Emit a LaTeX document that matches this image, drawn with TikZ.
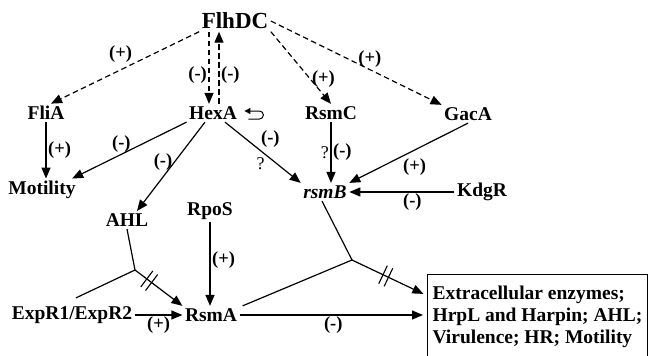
\documentclass[tikz,border=0pt]{standalone}
\usepackage{fontspec}
\setmainfont{Liberation Serif}
\usetikzlibrary{arrows.meta}
\usetikzlibrary{positioning}
\usetikzlibrary{decorations.markings}

\begin{document}
\begin{tikzpicture}[
    x=1pt, y=-1pt,
    >={Triangle[length=11pt,width=9pt]},
    line width=1.2pt,
    every node/.style={font=\fontsize{19.5}{22}\selectfont\bfseries, inner sep=2pt},
    master/.style={font=\fontsize{23}{26}\selectfont\bfseries},
    sign/.style={font=\fontsize{18.5}{20}\selectfont\bfseries, inner sep=1.5pt},
    query/.style={font=\fontsize{18}{20}\selectfont, inner sep=1.5pt},
    regulate/.style={->, dash pattern=on 5.5pt off 3.5pt},
    blocked/.style={postaction={decorate}, decoration={markings,
        mark=at position #1 with {\draw[-, shorten >=0pt, line width=1.1pt] (-3pt,-10pt) -- (-3pt,10pt) (3pt,-10pt) -- (3pt,10pt);}}},
    targetbox/.style={draw, anchor=north west, align=left, inner xsep=5pt, inner ysep=4pt,
        minimum height=84pt, font=\fontsize{19.5}{22}\selectfont\bfseries}
]
\useasboundingbox (0,0) rectangle (648,356);

% Nodes
\node[master] (flhdc) at (235,21) {FlhDC};
\node (flia) at (46,113) {FliA};
\node (hexa) at (213,113) {HexA};
\node (rsmc) at (331,113) {RsmC};
\node (gaca) at (468,114) {GacA};
\node (motility) at (42,190) {Motility};
\node (rsmb) at (325,192) {\itshape rsmB};
\node (kdgr) at (482,192) {KdgR};
\node (ahl) at (127,220) {AHL};
\node (rpos) at (210,211) {RpoS};
\node (expr) at (72,315) {ExpR1/ExpR2};
\node (rsma) at (211,315) {RsmA};
\node[targetbox] (targets) at (427,274) {Extracellular enzymes;\\HrpL and Harpin; AHL;\\Virulence; HR; Motility};
\coordinate (j1) at (135,270);
\coordinate (j2) at (352,260);

% FlhDC edges
\draw[regulate] (flhdc.south west) -- node[sign, above=5pt, pos=.53] {(+)} ([xshift=5pt]flia.north);
\draw[regulate] ([xshift=-4pt]hexa.north |- flhdc.south) -- node[sign, left, pos=.6] {(-)} ([xshift=-4pt]hexa.north);
\draw[regulate] ([xshift=6pt]hexa.north) -- node[sign, right, pos=.4] {(-)} ([xshift=6pt]hexa.north |- flhdc.south);
\draw[regulate] (flhdc.south east) -- node[sign, right, pos=.65] {(+)} (rsmc.north);
\draw[regulate] (flhdc.east) -- node[sign, above, pos=.58] {(+)} (gaca.north west);

% HexA autoregulation
\draw[{Triangle[length=6pt,width=6pt]}-, line width=1pt] ([shift={(5pt,2pt)}]hexa.east) -- ++(15,0)
    arc[start angle=90, end angle=-90, radius=4pt] -- ++(-11,0);

% Edges
\draw[->] (flia.south) -- node[sign, right] {(+)} (flia.south |- motility.north);
\draw[->] (hexa.south west) -- node[sign, above, pos=.57] {(-)} ([xshift=-6pt]motility.north east);
\draw[->] ([xshift=-8pt]hexa.south) -- node[sign, left, pos=.45] {(-)} ([xshift=10pt]ahl.north);
\draw[->] ([xshift=12pt]hexa.south) -- node[sign, above right, pos=.45] {(-)} node[query, below left, pos=.55] {?} (rsmb.north west);
\draw[->] (rsmc.south) -- node[sign, right] {(-)} node[query, left] {?} (rsmc.south |- rsmb.north);
\draw[->] (gaca.south) -- node[sign, below=7pt, pos=.45] {(+)} (rsmb.north east);
\draw[->] (kdgr.west) -- node[sign, below, pos=.4] {(-)} (rsmb.east);

\draw (ahl.south) -- (j1);
\draw ([shift={(4pt,6pt)}]expr.north) -- (j1);
\draw[->, blocked=.3] (j1) -- (rsma.north west);
\draw[->] (rpos.south) -- node[sign, right, pos=.45] {(+)} (rpos.south |- rsma.north);
\draw[->] (expr.east) -- node[sign, below] {(+)} (expr.east -| rsma.west);

\draw ([xshift=3pt]rsma.north east) -- (j2);
\draw ([xshift=-3pt]rsmb.south) -- (j2);
\draw[->, blocked=.45, shorten >=4pt] (j2) -- ([yshift=21pt]targets.west);
\draw[->, shorten >=4pt] (rsma.east) -- node[sign, below] {(-)} (rsma.east -| targets.west);

\end{tikzpicture}
\end{document}
